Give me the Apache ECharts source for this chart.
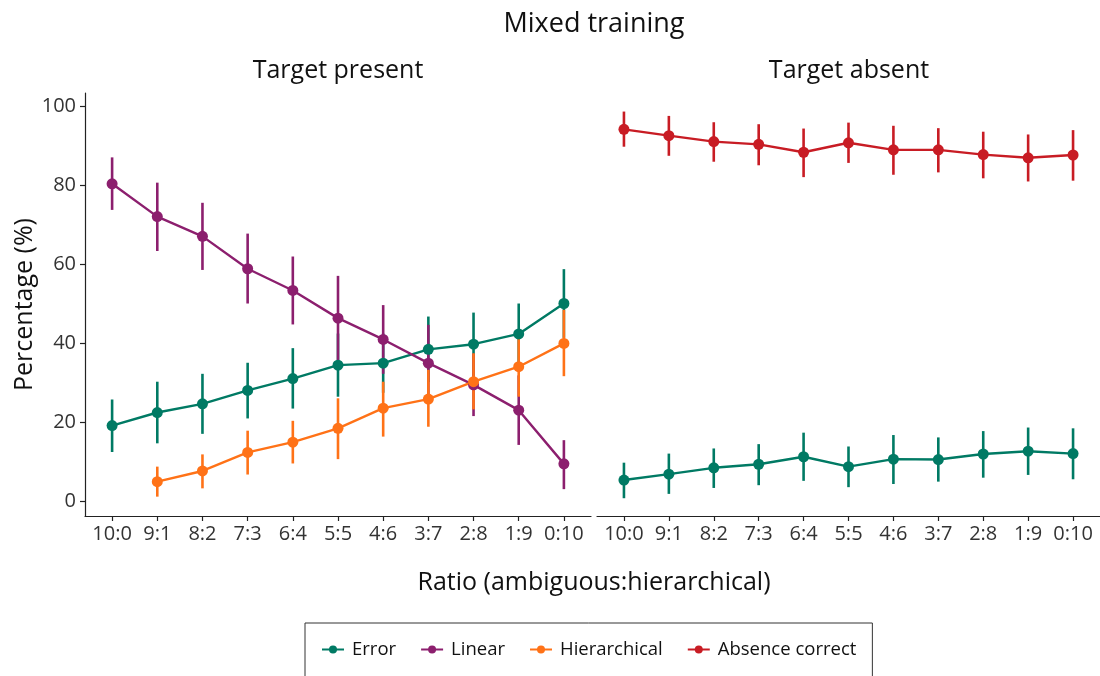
<!DOCTYPE html>
<html>
<head>
<meta charset="utf-8">
<script src="https://cdn.jsdelivr.net/npm/echarts@6/dist/echarts.min.js"></script>
<style>
  html, body { margin: 0; padding: 0; background: #fff; }
  #chart { width: 1100px; height: 676px; }
</style>
</head>
<body>
<div id="chart"></div>
<script>
// Ratio categories (ambiguous:hierarchical)
const categories = ['10:0', '9:1', '8:2', '7:3', '6:4', '5:5', '4:6', '3:7', '2:8', '1:9', '0:10'];
const yTicks = [0, 20, 40, 60, 80, 100];

// Target present panel: means with lower / upper error-bar limits
const presentError   = [19.1, 22.4, 24.6, 28.0, 31.0, 34.4, 34.9, 38.4, 39.7, 42.3, 50.0];
const presentErrorLo = [12.4, 14.6, 17.0, 20.9, 23.4, 26.4, 27.4, 30.1, 31.7, 34.6, 41.3];
const presentErrorHi = [25.7, 30.2, 32.2, 35.0, 38.7, 42.4, 42.4, 46.7, 47.7, 50.0, 58.7];

const presentLinear   = [80.3, 72.0, 67.0, 58.8, 53.3, 46.3, 40.9, 34.9, 29.4, 23.0, 9.4];
const presentLinearLo = [73.7, 63.3, 58.5, 50.0, 44.7, 35.6, 32.2, 25.2, 21.5, 14.2, 3.0];
const presentLinearHi = [87.0, 80.6, 75.5, 67.7, 61.9, 57.0, 49.6, 44.6, 37.3, 31.8, 15.4];

const presentHier   = [null, 4.9, 7.6, 12.3, 14.9, 18.4, 23.5, 25.8, 30.2, 34.0, 39.9];
const presentHierLo = [null, 1.1, 3.2, 6.7, 9.5, 10.6, 16.3, 18.8, 23.2, 26.4, 31.6];
const presentHierHi = [null, 8.7, 11.8, 17.8, 20.3, 26.0, 30.2, 33.2, 37.4, 42.4, 48.4];

// Target absent panel
const absentCorrect   = [94.1, 92.5, 91.0, 90.3, 88.3, 90.7, 88.9, 88.9, 87.7, 86.9, 87.6];
const absentCorrectLo = [89.7, 87.4, 85.9, 85.0, 82.0, 85.6, 82.6, 83.2, 81.7, 80.9, 81.1];
const absentCorrectHi = [98.6, 97.5, 95.9, 95.4, 94.3, 95.8, 95.0, 94.4, 93.5, 92.8, 93.9];

const absentError   = [5.3, 6.8, 8.4, 9.3, 11.2, 8.7, 10.6, 10.5, 11.9, 12.6, 12.0];
const absentErrorLo = [0.7, 1.8, 3.3, 4.0, 5.1, 3.5, 4.3, 4.9, 5.9, 6.6, 5.5];
const absentErrorHi = [9.7, 12.0, 13.3, 14.4, 17.3, 13.8, 16.7, 16.1, 17.7, 18.6, 18.4];

const COLORS = {
  error: '#007a64',
  linear: '#8c1f6e',
  hier: '#ff7217',
  absence: '#c81c24'
};

const FONT = '"Open Sans", "Noto Sans", sans-serif';
const TICK_IDX = categories.map((_, i) => i);

function points(values) {
  const out = [];
  values.forEach((v, i) => { if (v !== null) out.push([i, v]); });
  return out;
}
function bars(lo, hi) {
  const out = [];
  lo.forEach((v, i) => { if (v !== null) out.push([i, v, hi[i]]); });
  return out;
}

function lineSeries(name, values, color, gridIdx) {
  return {
    type: 'line',
    name: name,
    xAxisIndex: gridIdx,
    yAxisIndex: gridIdx,
    data: points(values),
    symbol: 'circle',
    symbolSize: 11,
    showSymbol: true,
    lineStyle: { color: color, width: 2.4 },
    itemStyle: { color: color },
    z: 3,
    animation: false
  };
}

function errorBarSeries(lo, hi, color, gridIdx) {
  return {
    type: 'custom',
    xAxisIndex: gridIdx,
    yAxisIndex: gridIdx,
    data: bars(lo, hi),
    encode: { x: 0, y: [1, 2] },
    z: 2,
    silent: true,
    animation: false,
    renderItem: function (params, api) {
      const a = api.coord([api.value(0), api.value(1)]);
      const b = api.coord([api.value(0), api.value(2)]);
      return {
        type: 'line',
        shape: { x1: a[0], y1: a[1], x2: b[0], y2: b[1] },
        style: { stroke: color, lineWidth: 2.6 }
      };
    }
  };
}

function xAxis(gridIdx) {
  return {
    type: 'value',
    gridIndex: gridIdx,
    min: -0.6,
    max: 10.6,
    splitLine: { show: false },
    axisLine: { show: true, onZero: false, lineStyle: { color: '#222', width: 1.2 } },
    axisTick: { show: true, length: 5, customValues: TICK_IDX, lineStyle: { color: '#222', width: 1.2 } },
    axisLabel: {
      customValues: TICK_IDX,
      formatter: v => categories[Math.round(v)],
      color: '#333',
      fontFamily: FONT,
      fontSize: 20,
      margin: 8
    }
  };
}

function yAxis(gridIdx, visible) {
  return {
    type: 'value',
    gridIndex: gridIdx,
    min: -3.8,
    max: 103.3,
    show: visible,
    splitLine: { show: false },
    axisLine: { show: true, onZero: false, lineStyle: { color: '#222', width: 1.2 } },
    axisTick: { show: true, length: 5, customValues: yTicks, lineStyle: { color: '#222', width: 1.2 } },
    axisLabel: {
      customValues: yTicks,
      color: '#333',
      fontFamily: FONT,
      fontSize: 20,
      margin: 9
    },
    name: visible ? 'Percentage (%)' : '',
    nameLocation: 'middle',
    nameRotate: 90,
    nameGap: 46,
    nameTextStyle: { color: '#111', fontFamily: FONT, fontSize: 25 }
  };
}

const chart = echarts.init(document.getElementById('chart'), null, { renderer: 'canvas' });

chart.setOption({
  backgroundColor: '#fff',
  animation: false,
  textStyle: { fontFamily: FONT },
  grid: [
    { left: 85, top: 93, width: 506, height: 423 },
    { left: 597, top: 93, width: 505, height: 423 }
  ],
  xAxis: [xAxis(0), xAxis(1)],
  yAxis: [yAxis(0, true), yAxis(1, false)],
  legend: {
    data: ['Error', 'Linear', 'Hierarchical', 'Absence correct'],
    left: 305,
    top: 623,
    orient: 'horizontal',
    itemWidth: 22,
    itemHeight: 10,
    itemGap: 24,
    padding: [17, 16, 30, 16],
    borderColor: '#333',
    borderWidth: 1,
    textStyle: { color: '#111', fontFamily: FONT, fontSize: 18.5, padding: [0, 0, 0, 3] }
  },
  graphic: [
    {
      type: 'text', x: 594, y: 24,
      style: { text: 'Mixed training', textAlign: 'center', textVerticalAlign: 'middle',
               fill: '#111', font: '27px ' + FONT }
    },
    {
      type: 'text', x: 338, y: 71,
      style: { text: 'Target present', textAlign: 'center', textVerticalAlign: 'middle',
               fill: '#111', font: '25px ' + FONT }
    },
    {
      type: 'text', x: 849, y: 71,
      style: { text: 'Target absent', textAlign: 'center', textVerticalAlign: 'middle',
               fill: '#111', font: '25px ' + FONT }
    },
    {
      type: 'text', x: 594, y: 583,
      style: { text: 'Ratio (ambiguous:hierarchical)', textAlign: 'center', textVerticalAlign: 'middle',
               fill: '#111', font: '25px ' + FONT }
    }
  ],
  series: [
    errorBarSeries(presentErrorLo, presentErrorHi, COLORS.error, 0),
    errorBarSeries(presentLinearLo, presentLinearHi, COLORS.linear, 0),
    errorBarSeries(presentHierLo, presentHierHi, COLORS.hier, 0),
    errorBarSeries(absentErrorLo, absentErrorHi, COLORS.error, 1),
    errorBarSeries(absentCorrectLo, absentCorrectHi, COLORS.absence, 1),
    lineSeries('Error', presentError, COLORS.error, 0),
    lineSeries('Linear', presentLinear, COLORS.linear, 0),
    lineSeries('Hierarchical', presentHier, COLORS.hier, 0),
    lineSeries('Error', absentError, COLORS.error, 1),
    lineSeries('Absence correct', absentCorrect, COLORS.absence, 1)
  ]
});
</script>
</body>
</html>
